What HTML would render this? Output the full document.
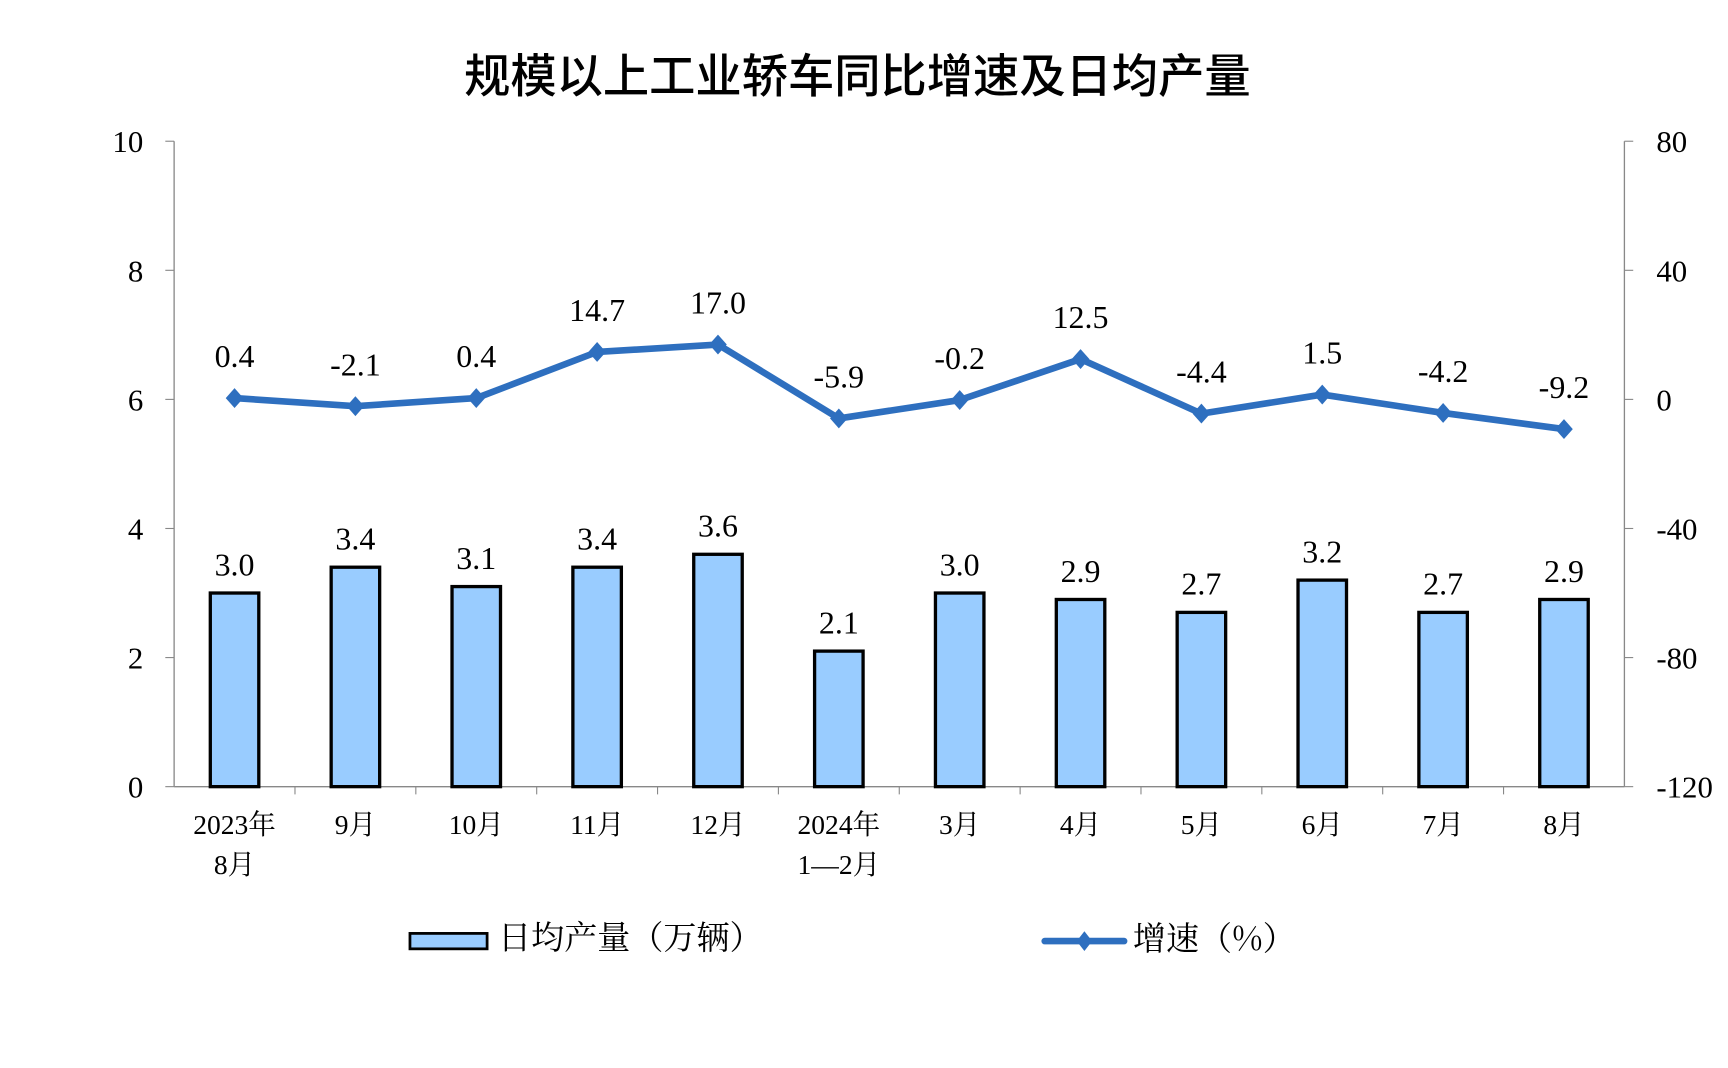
<!DOCTYPE html>
<html><head><meta charset="utf-8"><style>
html,body{margin:0;padding:0;background:#fff;}
svg{display:block;}
text{font-family:"Liberation Serif","Noto Serif CJK SC",serif;fill:#000;}
.cjk{font-family:"Liberation Serif","Noto Sans CJK SC",sans-serif;}
</style></head><body>
<svg id="s" width="1728" height="1068" viewBox="0 0 1568 968" preserveAspectRatio="none" xmlns="http://www.w3.org/2000/svg">
<text x="778" y="84" text-anchor="middle" class="cjk" font-size="42" font-weight="500">规模以上工业轿车同比增速及日均产量</text>
<g stroke="#888" stroke-width="1.2" fill="none">
<line x1="158" y1="128" x2="158" y2="713"/>
<line x1="1474" y1="128" x2="1474" y2="713"/>
<line x1="158" y1="713" x2="1474" y2="713"/>
</g>
<g id="g"></g>
<g transform="translate(372,846)">
<rect x="0" y="0" width="70" height="14" fill="#99ccff" stroke="#000" stroke-width="2.5"/>
<text x="80" y="14" font-size="30" style="font-family:'Noto Serif CJK SC',serif">日均产量（万辆）</text>
</g>
<g transform="translate(948,853)">
<line x1="0" y1="0" x2="72" y2="0" stroke="#2e6fbf" stroke-width="6" stroke-linecap="round"/>
<path d="M36,-9 L43,0 L36,9 L29,0Z" fill="#2e6fbf"/>
<text x="80" y="8" font-size="30" style="font-family:'Noto Serif CJK SC',serif">增速（%）</text>
</g>
</svg>
<script>
(function(){
var g=document.getElementById('g'),h='';
var L=158,R=1474,T=128,B=713,w=(R-L)/12;
for(var i=0;i<=5;i++){var y=B-i*117;
h+='<line x1="150" y1="'+y+'" x2="158" y2="'+y+'" stroke="#888"/>';
h+='<line x1="1474" y1="'+y+'" x2="1482" y2="'+y+'" stroke="#888"/>';
h+='<text x="130" y="'+(y+10)+'" text-anchor="end" font-size="28">'+(i*2)+'</text>';
h+='<text x="1503" y="'+(y+10)+'" font-size="28">'+(-120+i*40)+'</text>';}
for(var i=1;i<12;i++){var x=L+i*w;h+='<line x1="'+x+'" y1="713" x2="'+x+'" y2="720" stroke="#888"/>';}
var bv=[3.0,3.4,3.1,3.4,3.6,2.1,3.0,2.9,2.7,3.2,2.7,2.9];
var lv=[0.4,-2.1,0.4,14.7,17.0,-5.9,-0.2,12.5,-4.4,1.5,-4.2,-9.2];
var cats=[['2023年','8月'],['9月'],['10月'],['11月'],['12月'],['2024年','1—2月'],['3月'],['4月'],['5月'],['6月'],['7月'],['8月']];
var pts=[];
for(var i=0;i<12;i++){var c=L+w*(i+0.5);var bt=B-58.5*bv[i];
h+='<rect x="'+(c-22)+'" y="'+bt+'" width="44" height="'+(B-bt)+'" fill="#99ccff" stroke="#000" stroke-width="3"/>';
h+='<text x="'+c+'" y="'+(bt-16)+'" text-anchor="middle" font-size="29">'+bv[i].toFixed(1)+'</text>';
var ly=362-lv[i]*2.925;pts.push(c+','+ly);
h+='<text x="'+c+'" y="'+(ly-28)+'" text-anchor="middle" font-size="29">'+lv[i].toFixed(1)+'</text>';
for(var k=0;k<cats[i].length;k++)h+='<text x="'+c+'" y="'+(756+k*36)+'" text-anchor="middle" font-size="25">'+cats[i][k]+'</text>';}
h+='<polyline points="'+pts.join(' ')+'" fill="none" stroke="#2e6fbf" stroke-width="6" stroke-linejoin="round"/>';
for(var i=0;i<12;i++){var p=pts[i].split(',');var x=+p[0],y=+p[1];
h+='<path d="M'+x+','+(y-9)+' L'+(x+8)+','+y+' L'+x+','+(y+9)+' L'+(x-8)+','+y+'Z" fill="#2e6fbf"/>';}
g.innerHTML=h;
})();
</script>
</body></html>
